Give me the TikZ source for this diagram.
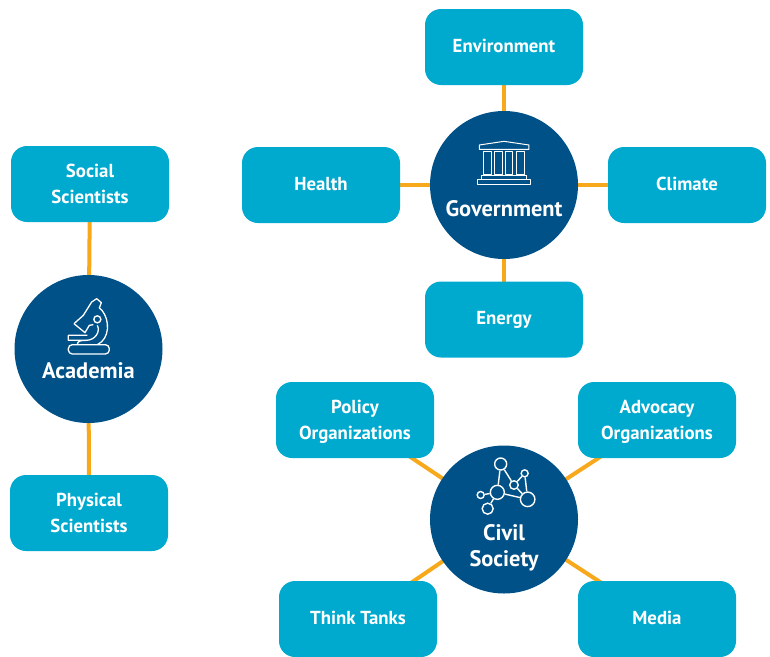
\documentclass[tikz,border=0pt]{standalone}
\usepackage{fontspec}
\setmainfont{PT Sans}
\usetikzlibrary{backgrounds}
\definecolor{boxblue}{RGB}{0,170,207}
\definecolor{hubblue}{RGB}{0,81,135}
\definecolor{linkorange}{RGB}{247,168,27}
\newcommand{\lowerline}{\rule{0pt}{17.5pt}}
\tikzset{
  topic/.style={fill=boxblue,rounded corners=16pt,minimum width=158pt,minimum height=76pt,inner sep=0pt,
    text=white,font=\bfseries\fontsize{18.8}{26}\selectfont,align=center},
  oneline/.style={text height=10.5pt,text depth=0pt},
  hub/.style={circle,fill=hubblue,minimum size=148pt,inner sep=0pt},
  hubtext/.style={text=white,font=\bfseries\fontsize{22.4}{26}\selectfont,align=center,inner sep=0pt},
  link/.style={draw=linkorange,line width=4pt},
  icon/.style={draw=white,line width=1pt,line join=round},
  dot/.style={circle,draw=white,line width=1.4pt,inner sep=0pt},
}
\begin{document}
\begin{tikzpicture}[x=1pt,y=-1pt]
  \useasboundingbox (0,0) rectangle (770,656);

  % Hubs
  \node[hub] (government) at (504,185) {};
  \node[hub] (academia) at (88.5,349) {};
  \node[hub] (civil) at (504,519.5) {};
  \node[hubtext] (governmentlabel) at (504,209) {Government};
  \node[hubtext] (academialabel) at (88.5,371) {Academia};
  \node[hubtext] (civillabel) at (504,548) {Civil\\Society};

  % Topics
  \node[topic,oneline] (environment) at (504,47) {Environment};
  \node[topic,oneline] (health) at (321,185) {Health};
  \node[topic,oneline] (climate) at (687,185) {Climate};
  \node[topic,oneline] (energy) at (504,319.5) {Energy};
  \node[topic] (social) at (90,184) {Social\\Scientists};
  \node[topic] (physical) at (89,513) {Physical\\Scientists};
  \node[topic] (policy) at (355,420) {\lowerline Policy\\Organizations};
  \node[topic] (advocacy) at (657,420) {\lowerline Advocacy\\Organizations};
  \node[topic,oneline] (thinktanks) at (358,619) {Think Tanks};
  \node[topic,oneline] (media) at (657,619) {Media};

  % Links
  \begin{scope}[on background layer]
    \foreach \t in {environment,health,climate,energy} {
      \draw[link] (government.center) -- (\t.center);
    }
    \foreach \t in {social,physical} {
      \draw[link] (academia.center) -- (\t.center);
    }
    \foreach \t in {policy,advocacy,thinktanks,media} {
      \draw[link] (civil.center) -- (\t.center);
    }
  \end{scope}

  % Government icon
  \begin{scope}[shift={(430,110)},x=0.3333pt,y=-0.3333pt]
    \draw[icon] (148,105) -- (222,94) -- (297,105) -- (297,118) -- (148,118) -- cycle;
    \foreach \c in {160,193,226,260} {
      \draw[icon] (\c,124) rectangle (\c+23,195);
    }
    \draw[icon] (155,210) -- (155,198) -- (290,198) -- (290,210);
    \draw[icon] (142,210) rectangle (302,224);
  \end{scope}

  % Academia icon
  \begin{scope}[shift={(60,292)},x=0.3333pt,y=-0.3333pt,icon/.append style={line width=1.3pt}]
    \draw[icon,rounded corners=4pt] (25,158) rectangle (148,186);
    \draw[icon] (52,158) .. controls (52,147) and (62,145) .. (78,145) -- (25,145) -- (25,130) -- (82,130);
    \draw[icon] (42,95) -- (70,70) -- (95,30) -- (110,20) -- (124,32) -- (118,48) -- (126,55);
    \draw[icon] (42,95) -- (75,122) -- (88,100) -- (100,98);
    \draw[icon] (126,55) .. controls (150,85) and (150,140) .. (112,158);
    \draw[icon] (112,100) .. controls (122,120) and (105,145) .. (78,145);
    \node[dot,minimum size=7pt] (knob) at (112,82) {};
  \end{scope}

  % Civil society icon
  \begin{scope}[shift={(430,445)},x=0.3333pt,y=-0.3333pt]
    \node[dot,minimum size=12pt] (n1) at (212,57) {};
    \node[dot,minimum size=7pt] (n2) at (284,85) {};
    \node[dot,minimum size=8.5pt] (n3) at (252,120) {};
    \node[dot,minimum size=14pt] (n4) at (202,142) {};
    \node[dot,minimum size=14.5pt] (n5) at (293,163) {};
    \node[dot,minimum size=7pt] (n6) at (152,150) {};
    \node[dot,minimum size=11pt] (n7) at (173,191) {};
    \foreach \a/\b in {n1/n4,n1/n3,n3/n2,n2/n5,n3/n5,n4/n5,n4/n6,n4/n7} {
      \draw[white,line width=1.4pt] (\a) -- (\b);
    }
  \end{scope}
\end{tikzpicture}
\end{document}
